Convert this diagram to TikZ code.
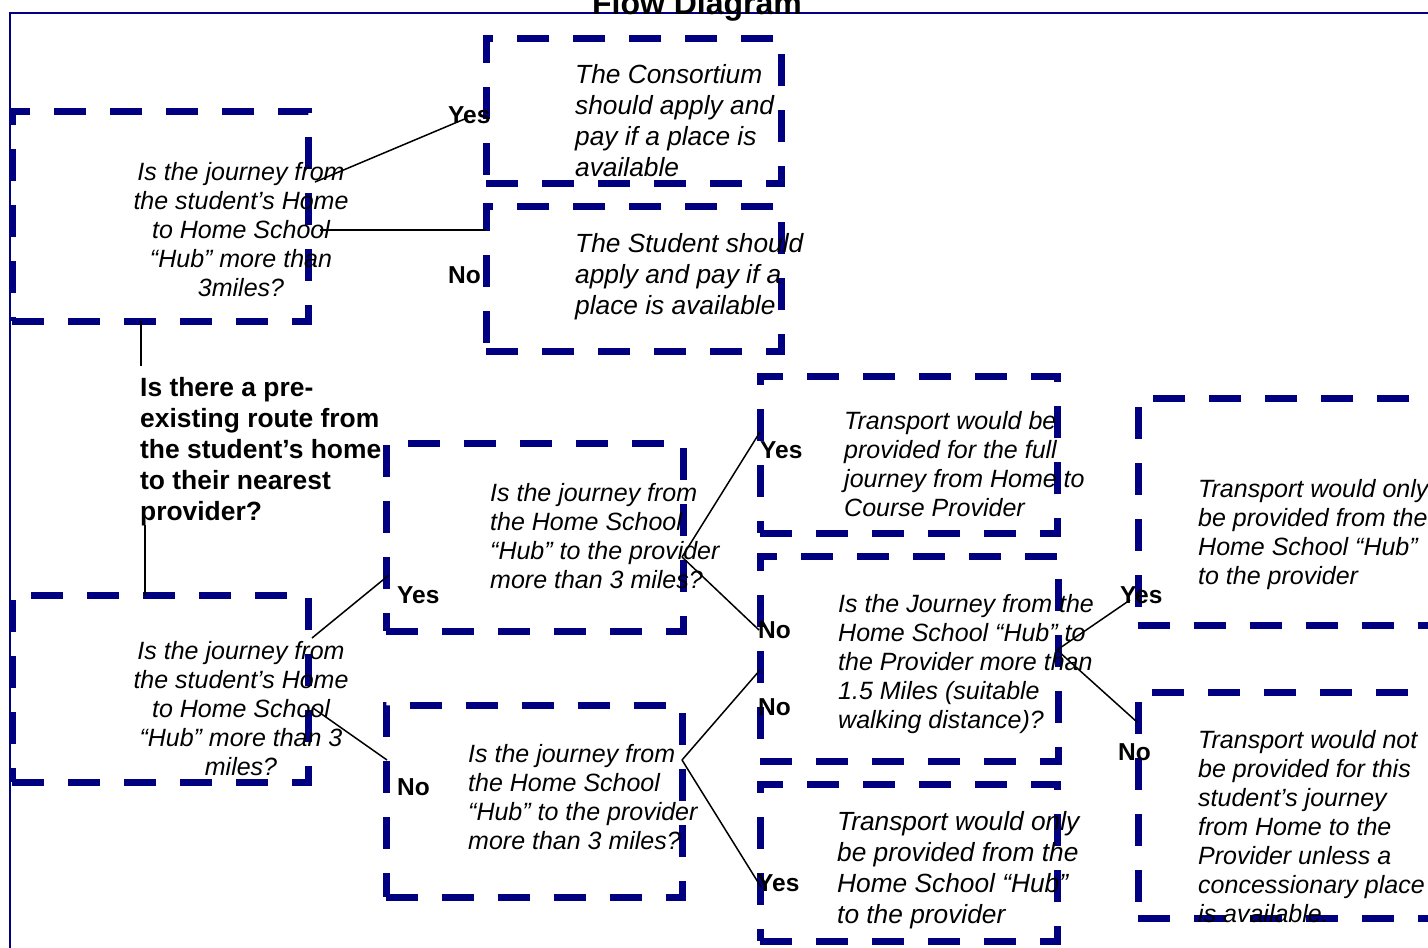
\documentclass[tikz,border=0pt]{standalone}
\usepackage{fontspec}
\setmainfont{Liberation Sans}
\definecolor{navy}{RGB}{0,0,128}
\begin{document}
\begin{tikzpicture}[x=1pt,y=-1pt]
\tikzset{
 dbox/.style={draw=navy, line width=7pt, dash pattern=on 32pt off 24pt, inner sep=0pt, outer sep=0pt},
 qtext/.style={font=\fontsize{25}{29}\selectfont\itshape, inner sep=0pt, align=left, anchor=north west},
 qtextc/.style={qtext, align=center, anchor=north},
 btext/.style={font=\fontsize{26.3}{31}\selectfont\itshape, inner sep=0pt, align=left, anchor=north west},
 lab/.style={font=\fontsize{24.5}{29}\selectfont\bfseries, inner sep=0pt, anchor=base west},
 conn/.style={draw=black, line width=1.5pt},
}
\clip (0,0) rectangle (1428,948);
\fill[white] (0,0) rectangle (1428,948);
% frame
\draw[navy, line width=2pt] (10,13) rectangle (1500,1100);
% title
\node[font=\fontsize{32}{36}\selectfont\bfseries, inner sep=0pt, anchor=base] (title) at (697,14) {Flow Diagram};
% boxes
\node[dbox, minimum width=296pt, minimum height=210pt] (A) at (160,216) {};
\node[dbox, minimum width=295pt, minimum height=145pt] (B) at (633.5,110.5) {};
\node[dbox, minimum width=295pt, minimum height=145pt] (C) at (633.5,278.5) {};
\node[dbox, minimum width=296pt, minimum height=187pt] (D) at (160,688.5) {};
\node[dbox, minimum width=297pt, minimum height=188pt] (E) at (534.5,537) {};
\node[dbox, minimum width=296pt, minimum height=192pt] (F) at (534,801) {};
\node[dbox, minimum width=297pt, minimum height=157pt] (G) at (908.5,454.5) {};
\node[dbox, minimum width=298pt, minimum height=205pt] (H) at (909,658.5) {};
\node[dbox, minimum width=297pt, minimum height=157pt] (I) at (908.5,862.5) {};
\node[dbox, minimum width=302pt, minimum height=227pt] (J) at (1289,511.5) {};
\node[dbox, minimum width=302pt, minimum height=226pt] (K) at (1289,805) {};
% texts
\node[qtextc] (tA) at (241,162) {Is the journey from\\the student’s Home\\to Home School\\“Hub” more than\\3miles?};
\node[btext] (tB) at (575,64) {The Consortium\\should apply and\\pay if a place is\\available};
\node[btext] (tC) at (575,233) {The Student should\\apply and pay if a\\place is available};
\node[font=\fontsize{26.4}{31}\selectfont\bfseries, inner sep=0pt, align=left, anchor=north west] (Q) at (140,377) {Is there a pre-\\existing route from\\the student’s home\\to their nearest\\provider?};
\node[qtextc] (tD) at (241,641) {Is the journey from\\the student’s Home\\to Home School\\“Hub” more than 3\\miles?};
\node[qtext] (tE) at (490,483) {Is the journey from\\the Home School\\“Hub” to the provider\\more than 3 miles?};
\node[qtext] (tF) at (468,744) {Is the journey from\\the Home School\\“Hub” to the provider\\more than 3 miles?};
\node[qtext] (tG) at (844,411) {Transport would be\\provided for the full\\journey from Home to\\Course Provider};
\node[qtext] (tH) at (838,594) {Is the Journey from the\\Home School “Hub” to\\the Provider more than\\1.5 Miles (suitable\\walking distance)?};
\node[btext] (tI) at (837,811) {Transport would only\\be provided from the\\Home School “Hub”\\to the provider};
\node[qtext] (tJ) at (1198,479) {Transport would only\\be provided from the\\Home School “Hub”\\to the provider};
\node[qtext] (tK) at (1198,730) {Transport would not\\be provided for this\\student’s journey\\from Home to the\\Provider unless a\\concessionary place\\is available.};
% connector end points
\coordinate (a1) at (315,182); \coordinate (b1) at (467,118);
\coordinate (a2) at (320,230); \coordinate (c1) at (486,230);
\coordinate (a3) at (141,321); \coordinate (q1) at (141,366);
\coordinate (q2) at (145,525); \coordinate (d0) at (145,595);
\coordinate (d1) at (312,638); \coordinate (e0) at (389,575);
\coordinate (d2) at (313,708); \coordinate (f0) at (387,760);
\coordinate (e1) at (682,557); \coordinate (g0) at (760,432);
\coordinate (h0) at (759,630);
\coordinate (f1) at (682,760); \coordinate (h1) at (760,670);
\coordinate (i0) at (761,887);
\coordinate (h2) at (1057,650); \coordinate (j0) at (1130,600);
\coordinate (k0) at (1137,722);
% connectors
\draw[conn] (a1) -- (b1);
\draw[conn] (a2) -- (c1);
\draw[conn] (a3) -- (q1);
\draw[conn] (q2) -- (d0);
\draw[conn] (d1) -- (e0);
\draw[conn] (d2) -- (f0);
\draw[conn] (e1) -- (g0);
\draw[conn] (e1) -- (h0);
\draw[conn] (f1) -- (h1);
\draw[conn] (f1) -- (i0);
\draw[conn] (h2) -- (j0);
\draw[conn] (h2) -- (k0);
% labels
\node[lab] (y1) at (448,123) {Yes};
\node[lab] (n1) at (448,283) {No};
\node[lab] (y2) at (397,603) {Yes};
\node[lab] (n2) at (397,795) {No};
\node[lab] (y3) at (760,458) {Yes};
\node[lab] (n3) at (758,638) {No};
\node[lab] (n4) at (758,715) {No};
\node[lab] (y4) at (757,891) {Yes};
\node[lab] (y5) at (1120,603) {Yes};
\node[lab] (n5) at (1118,760) {No};
\end{tikzpicture}
\end{document}
